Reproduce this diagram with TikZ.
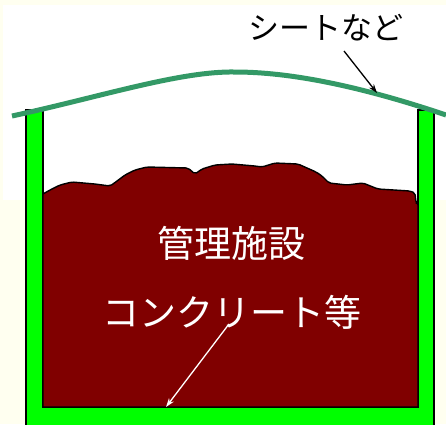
\documentclass[tikz,border=0pt]{standalone}
\usepackage{fontspec}
\newfontfamily\jpfont{Noto Sans CJK JP}
\usetikzlibrary{arrows.meta}
\definecolor{cream}{HTML}{FFFFF0}
\definecolor{wallgreen}{HTML}{00FF00}
\definecolor{waste}{HTML}{800000}
\definecolor{roofgreen}{HTML}{339966}
\begin{document}
\begin{tikzpicture}[x=1pt,y=-1pt,
  wall/.style={fill=wallgreen,draw=black,line width=1.6pt,line join=miter},
  heap/.style={fill=waste,draw=black,line width=1.4pt,line join=round},
  roof/.style={draw=roofgreen,line width=5pt},
  label/.style={font=\jpfont\fontsize{31}{31}\selectfont,inner sep=0pt,text=black},
  inlabel/.style={font=\jpfont\fontsize{37}{37}\selectfont,inner sep=0pt,text=white},
  pointer/.style={line width=1.3pt,-{Stealth[length=9pt,width=6pt]}}]
\useasboundingbox (0,0) rectangle (446,424);
\clip (0,0) rectangle (446,424);
\fill[cream] (0,0) rectangle (446,424);
\fill[white] (3,5) rectangle (446,200);
% walls (U shape)
\draw[wall] (26,110) -- (26,430) -- (434,430) -- (434,110) -- (418,110)
  -- (418,407) -- (43,407) -- (43,110) -- cycle;
% waste heap
\draw[heap,rounded corners=2pt] (43,194) -- (50,190) -- (60,185) -- (72,182) -- (95,184)
  -- (110,186) -- (113,184) -- (125,175) -- (135,170) -- (147,167) -- (188,168)
  -- (195,174) -- (202,169) -- (215,165) -- (232,164) -- (255,166) -- (262,167)
  -- (275,163) -- (298,164) -- (316,172) -- (322,176) -- (329,183) -- (347,185)
  -- (363,183) -- (378,189) -- (410,191) -- (415,193) -- (416,203) -- (418,203)
  [sharp corners] -- (418,407) -- (43,407) -- cycle;
% roof sheet
\draw[roof] (12,116) .. controls (100,97) and (180,71) .. (235,72)
  .. controls (290,72) and (360,86) .. (446,115);
% labels
\node[label] (sheet) at (326,28) {シートなど};
\node[inlabel] (facility) at (231,243) {管理施設};
\node[inlabel] (concrete) at (232,312) {コンクリート等};
\coordinate (sheetfrom) at (344,51);
\coordinate (sheetto) at (377,93);
\coordinate (concfrom) at (229,324);
\coordinate (concto) at (166,407);
\draw[pointer,black] (sheetfrom) -- (sheetto);
\draw[pointer,white] (concfrom) -- (concto);
\end{tikzpicture}
\end{document}
